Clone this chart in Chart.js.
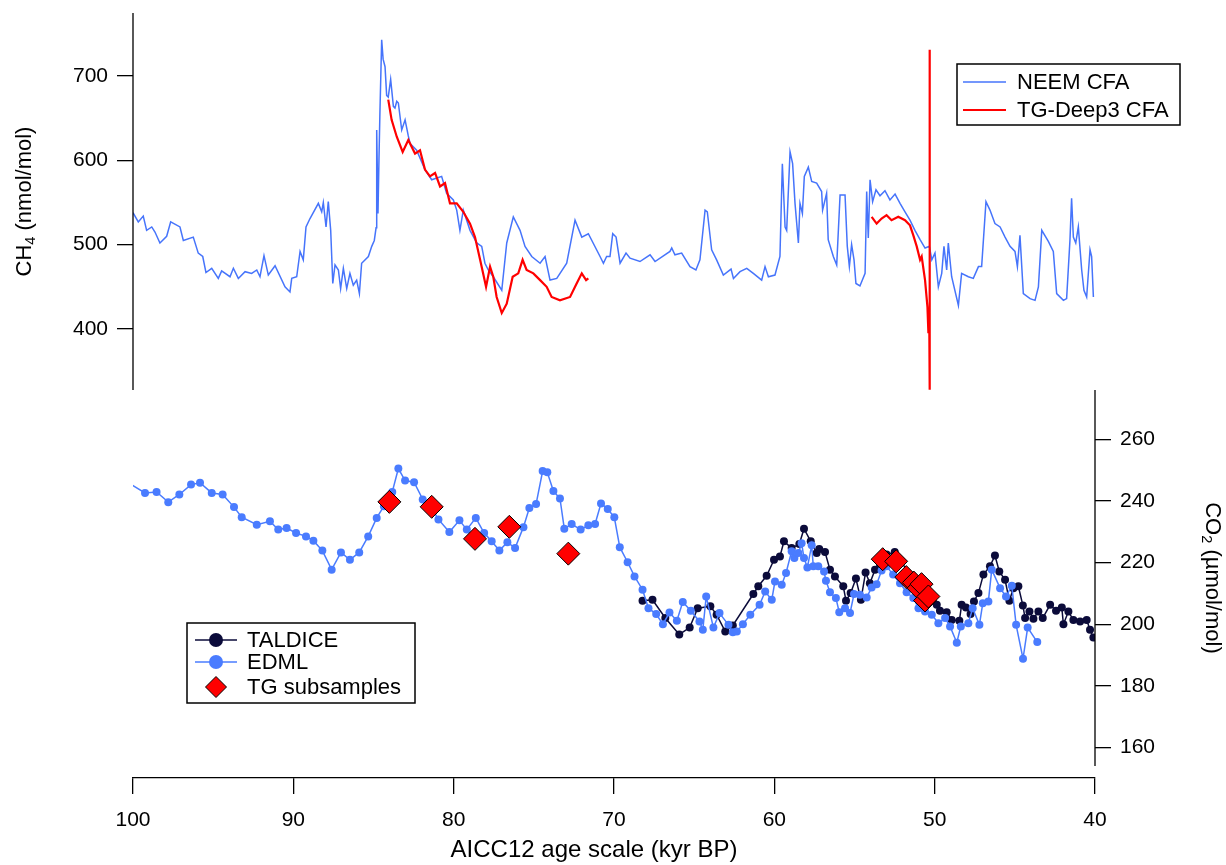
<!DOCTYPE html>
<html>
<head>
<meta charset="utf-8">
<title>CH4 and CO2, 100–40 kyr BP</title>
<script src="https://cdn.jsdelivr.net/npm/chart.js@4.4.1/dist/chart.umd.min.js"></script>
<style>
  html, body { margin: 0; padding: 0; background: #fff; }
  #wrap { position: relative; width: 1226px; height: 865px; }
</style>
</head>
<body>
<div id="wrap"><canvas id="chart" width="1226" height="865"></canvas></div>
<script>
// ---- data: [age (kyr BP), value] ----

// CH4, nmol/mol
const NEEM_CFA = [
  [100.0, 538], [99.67, 527], [99.36, 534], [99.15, 517], [98.83, 521], [98.63, 515], [98.32, 502], [97.9, 510],
  [97.65, 527], [97.07, 521], [96.86, 505], [96.24, 509], [95.93, 490], [95.65, 486], [95.45, 467], [95.09, 472],
  [94.68, 460], [94.47, 469], [93.95, 462], [93.74, 472], [93.43, 460], [93.01, 468], [92.6, 466], [92.28, 470],
  [92.08, 462], [91.83, 487], [91.56, 464], [91.14, 475], [90.52, 450], [90.21, 444], [90.1, 460], [89.79, 462],
  [89.58, 492], [89.38, 482], [89.21, 521], [88.96, 531], [88.44, 549], [88.23, 539], [88.13, 550], [87.96, 521],
  [87.82, 551], [87.67, 517], [87.54, 454], [87.4, 476], [87.19, 470], [87.05, 448], [86.88, 472], [86.67, 448],
  [86.47, 466], [86.26, 452], [86.05, 458], [85.88, 442], [85.74, 478], [85.32, 486], [85.11, 498], [84.95, 505],
  [84.84, 520], [84.8, 636], [84.72, 537], [84.66, 600], [84.6, 656], [84.49, 743], [84.4, 720], [84.28, 711],
  [84.18, 677], [84.08, 675], [83.93, 696], [83.76, 664], [83.66, 662], [83.55, 670], [83.45, 668], [83.24, 636],
  [83.03, 648], [82.83, 629], [82.72, 620], [82.31, 612], [81.79, 589], [81.37, 577], [80.75, 581], [80.44, 561],
  [80.02, 553], [79.81, 541], [79.61, 517], [79.4, 541], [78.98, 517], [78.56, 502], [78.25, 498], [78.05, 478],
  [77.84, 470], [77.53, 462], [77.0, 446], [76.69, 502], [76.28, 533], [75.86, 517], [75.55, 498], [75.13, 486],
  [74.61, 478], [74.3, 486], [73.99, 458], [73.57, 460], [72.95, 478], [72.43, 529], [72.01, 509], [71.6, 513],
  [70.87, 486], [70.66, 478], [70.46, 486], [70.25, 486], [70.08, 513], [69.87, 509], [69.62, 478], [69.25, 490],
  [69.0, 484], [68.38, 480], [67.75, 488], [67.44, 480], [66.51, 492], [66.4, 496], [66.2, 488], [65.78, 490],
  [65.26, 474], [64.89, 470], [64.64, 482], [64.32, 541], [64.18, 539], [63.91, 494], [63.6, 482], [63.18, 464],
  [62.7, 471], [62.55, 460], [62.14, 468], [61.72, 472], [61.31, 466], [60.79, 458], [60.58, 474], [60.37, 462],
  [59.96, 464], [59.65, 486], [59.5, 596], [59.33, 521], [59.23, 517], [59.02, 610], [58.86, 596], [58.71, 549],
  [58.5, 502], [58.4, 549], [58.25, 537], [58.13, 581], [57.88, 592], [57.67, 575], [57.36, 573], [57.05, 563],
  [56.99, 541], [56.74, 561], [56.64, 506], [56.32, 486], [56.11, 476], [55.9, 559], [55.59, 559], [55.45, 498],
  [55.32, 474], [55.18, 500], [55.03, 482], [54.91, 454], [54.66, 451], [54.34, 466], [54.24, 563], [54.14, 508],
  [54.03, 577], [53.87, 551], [53.66, 565], [53.41, 558], [53.1, 564], [52.79, 553], [52.47, 560], [52.16, 549],
  [51.85, 539], [51.54, 529], [51.23, 517], [50.91, 506], [50.6, 496], [50.33, 498], [50.18, 482], [49.98, 490],
  [49.77, 450], [49.56, 466], [49.42, 498], [49.25, 470], [49.15, 502], [48.94, 462], [48.52, 428], [48.32, 466],
  [47.9, 462], [47.59, 460], [47.27, 474], [47.07, 474], [46.8, 551], [46.55, 541], [46.24, 525], [45.92, 521],
  [45.61, 509], [45.3, 498], [44.99, 492], [44.84, 474], [44.68, 511], [44.47, 442], [44.05, 436], [43.74, 434],
  [43.53, 450], [43.32, 517], [42.91, 504], [42.6, 492], [42.39, 442], [41.97, 434], [41.77, 436], [41.56, 506],
  [41.46, 555], [41.35, 509], [41.2, 502], [41.04, 521], [40.83, 470], [40.69, 446], [40.52, 438], [40.31, 494],
  [40.21, 486], [40.1, 438]
];

const TG_DEEP3_OLD = [
  [84.08, 672], [83.87, 648], [83.55, 628], [83.18, 610], [82.83, 624], [82.41, 608], [82.1, 612], [81.79, 589],
  [81.48, 581], [81.16, 585], [80.85, 569], [80.54, 573], [80.23, 549], [79.81, 549], [79.4, 539], [78.98, 525],
  [78.67, 509], [78.35, 482], [77.98, 450], [77.73, 474], [77.53, 462], [77.32, 438], [77.0, 419], [76.69, 430],
  [76.32, 462], [75.97, 466], [75.7, 482], [75.45, 470], [75.03, 466], [74.61, 458], [74.2, 450], [73.89, 438],
  [73.37, 434], [72.74, 438], [72.33, 454], [72.01, 466], [71.74, 458], [71.6, 460]
];

const TG_DEEP3_YOUNG = [
  [53.93, 533], [53.62, 525], [53.31, 531], [53.0, 535], [52.69, 529], [52.27, 533], [51.85, 529], [51.54, 523],
  [51.33, 511], [51.12, 498], [50.91, 482], [50.81, 486], [50.6, 458], [50.45, 426], [50.39, 395], [50.34, 420],
  [50.32, 731], [50.3, 328]
];

// CO2, µmol/mol
const TALDICE = [
  [68.22, 207.6], [67.6, 207.9], [66.8, 202.0], [65.93, 196.7], [65.28, 198.9], [64.78, 205.2], [63.99, 205.8],
  [63.6, 203.1], [63.06, 197.6], [62.59, 199.6], [61.31, 209.8], [61.0, 212.3], [60.48, 215.7], [60.02, 220.9],
  [59.65, 222.0], [59.4, 226.9], [58.92, 224.7], [58.44, 226.0], [58.15, 231.0], [57.73, 226.9], [57.36, 223.1],
  [57.2, 224.4], [56.84, 223.4], [56.53, 217.7], [56.22, 215.5], [55.7, 212.3], [55.53, 207.6], [55.24, 210.1],
  [54.91, 214.8], [54.6, 207.9], [54.31, 216.8], [54.04, 213.3], [53.72, 217.7], [53.41, 219.3], [53.0, 222.6],
  [52.49, 223.4], [52.07, 220.4], [51.54, 215.5], [50.91, 212.3], [50.29, 209.6], [49.87, 206.3], [49.67, 204.4],
  [49.25, 203.9], [48.94, 201.4], [48.46, 201.1], [48.32, 206.3], [48.05, 205.4], [47.76, 203.3], [47.55, 207.4],
  [47.27, 210.1], [46.96, 216.1], [46.55, 218.8], [46.24, 222.3], [45.97, 217.1], [45.61, 214.4], [45.34, 207.6],
  [45.09, 211.7], [44.78, 212.3], [44.5, 206.1], [44.36, 202.0], [44.09, 204.1], [43.84, 201.8], [43.53, 204.1],
  [43.26, 202.0], [42.8, 206.3], [42.43, 204.4], [42.07, 205.4], [41.97, 200.0], [41.66, 204.1], [41.35, 201.4],
  [40.93, 200.9], [40.52, 201.4], [40.31, 198.2], [40.1, 195.7]
];

const EDML = [
  [100.5, 246.5], [99.25, 242.6], [98.53, 242.9], [97.8, 239.6], [97.11, 242.1], [96.38, 245.3], [95.82, 245.9],
  [95.09, 242.6], [94.41, 242.1], [93.7, 238.0], [93.22, 234.7], [92.28, 232.3], [91.46, 233.4], [90.94, 230.7],
  [90.42, 231.2], [89.83, 229.6], [89.21, 228.5], [88.75, 227.1], [88.19, 223.9], [87.61, 217.7], [87.03, 223.3],
  [86.47, 220.9], [85.89, 223.3], [85.33, 228.5], [84.8, 234.5], [84.35, 238.3], [83.83, 242.9], [83.45, 250.5],
  [83.03, 246.6], [82.47, 246.1], [81.93, 240.5], [81.37, 237.7], [80.95, 234.0], [80.27, 229.9], [79.64, 233.7],
  [79.18, 230.7], [78.62, 234.5], [78.1, 229.6], [77.63, 226.9], [77.15, 223.9], [76.65, 226.6], [76.17, 224.7],
  [75.65, 231.5], [75.28, 237.7], [74.86, 239.0], [74.45, 249.7], [74.16, 249.3], [73.78, 243.2], [73.37, 240.8],
  [73.1, 231.0], [72.64, 232.5], [72.08, 230.7], [71.6, 232.1], [71.18, 232.5], [70.81, 239.2], [70.39, 237.4],
  [69.98, 234.7], [69.64, 225.0], [69.15, 220.1], [68.72, 215.5], [68.22, 211.2], [67.85, 205.2], [67.37, 203.3],
  [66.95, 200.0], [66.54, 203.8], [66.08, 201.1], [65.71, 207.2], [65.21, 204.4], [64.67, 200.9], [64.46, 198.2],
  [64.25, 209.0], [63.8, 198.9], [63.42, 203.6], [62.86, 199.8], [62.59, 197.4], [62.34, 197.6], [61.96, 200.0],
  [61.5, 203.1], [60.92, 206.3], [60.57, 210.6], [60.16, 207.9], [59.96, 213.9], [59.54, 212.8], [59.27, 216.6],
  [58.92, 223.7], [58.75, 221.5], [58.5, 223.1], [58.3, 226.3], [58.15, 221.5], [57.94, 218.4], [57.67, 225.6],
  [57.57, 218.8], [57.26, 218.8], [56.9, 217.1], [56.78, 214.1], [56.53, 210.4], [56.16, 208.5], [55.95, 203.9],
  [55.59, 205.2], [55.28, 203.6], [55.03, 209.8], [54.66, 209.6], [54.24, 208.7], [53.93, 211.9], [53.62, 213.0],
  [53.31, 217.4], [53.0, 218.8], [52.59, 216.1], [52.16, 213.3], [51.75, 210.4], [51.33, 208.5], [51.01, 205.2],
  [50.6, 204.1], [50.18, 203.1], [49.77, 200.3], [49.35, 202.0], [49.04, 199.3], [48.62, 194.0], [48.37, 199.3],
  [47.9, 200.3], [47.63, 205.2], [47.21, 199.8], [47.0, 206.8], [46.65, 207.4], [46.44, 217.7], [45.92, 211.7],
  [45.55, 209.0], [45.19, 212.5], [44.92, 199.8], [44.49, 188.8], [44.2, 198.9], [43.6, 194.2]
];

const TG_SUBSAMPLES = [
  [84.01, 239.7], [81.37, 238.1], [78.67, 227.7], [76.53, 231.6], [72.85, 222.9],
  [53.24, 221.1], [52.4, 220.4], [51.77, 215.3], [51.3, 213.5], [51.01, 211.7],
  [50.82, 213.0], [50.6, 207.7], [50.39, 209.0]
];

// ---- axes ----
const AGE_RANGE = [40, 100];
const AGE_STEP = 10;
const CH4_TICKS = [400, 500, 600, 700];
const CO2_TICKS = [160, 180, 200, 220, 240, 260];

// visible extent of each y axis, and where the panels sit inside the shared plot area
// (fractions measured from the top of the plot area)
const CH4_AXIS = [327.7, 774.7];
const CO2_AXIS = [154, 276];
const PANEL_SPLIT = 0.4928;
const CO2_PANEL_END = 0.9843;

// stretch the CH4 scale downwards so its axis fills only the upper panel
const ch4Max = CH4_AXIS[1];
const ch4Min = ch4Max - (CH4_AXIS[1] - CH4_AXIS[0]) / PANEL_SPLIT;
// stretch the CO2 scale both ways so its axis fills only the lower panel
const co2PerFrac = (CO2_AXIS[1] - CO2_AXIS[0]) / (CO2_PANEL_END - PANEL_SPLIT);
const co2Max = CO2_AXIS[1] + co2PerFrac * PANEL_SPLIT;
const co2Min = CO2_AXIS[0] - co2PerFrac * (1 - CO2_PANEL_END);

const FONT = '"Liberation Sans", Arial, sans-serif';
const BLUE = '#4674fb';
const EDML_BLUE = '#4a7cff';
const RED = '#ff0000';
const NAVY = '#0b0b3a';

const xy = rows => rows.map(([x, y]) => ({ x, y }));

// title with a subscript part, drawn along the current x direction, centred on 0
function drawSubTitle(ctx, parts, size) {
  const sub = size * 0.66;
  const widths = parts.map(([t, isSub]) => {
    ctx.font = `${isSub ? sub : size}px ${FONT}`;
    return ctx.measureText(t).width;
  });
  let x = -widths.reduce((a, b) => a + b, 0) / 2;
  parts.forEach(([t, isSub], i) => {
    ctx.font = `${isSub ? sub : size}px ${FONT}`;
    ctx.fillText(t, x, isSub ? size * 0.28 : 0);
    x += widths[i];
  });
}

// drawPoint fills/strokes with the current ctx styles, so set them first
function legendPoint(ctx, ds, r, x, y) {
  ctx.fillStyle = ds.pointBackgroundColor;
  ctx.strokeStyle = ds.pointBorderColor || ds.pointBackgroundColor;
  ctx.lineWidth = ds.pointBorderWidth || 0;
  Chart.helpers.drawPoint(ctx, {
    pointStyle: ds.pointStyle || 'circle', radius: r,
    borderWidth: ds.pointBorderWidth || 0, rotation: 0
  }, x, y);
}

const LEGENDS = [
  { x: 957, y: 64, w: 223, h: 61, rows: [18, 46], symbol: [6, 49], textX: 60,
    items: [{ label: 'NEEM CFA' }, { label: 'TG-Deep3 CFA' }] },
  { x: 187, y: 623, w: 228, h: 80, rows: [17, 39, 64], symbol: [8, 50], textX: 60,
    items: [{ label: 'TALDICE', marker: 7 }, { label: 'EDML', marker: 7 }, { label: 'TG subsamples', marker: 10.5 }] }
];

const X_TITLE = { text: 'AICC12 age scale (kyr BP)', x: 594, y: 850, size: 24 };

// axis lines that stop at each panel, the axis titles and both legends
const panelFrame = {
  id: 'panelFrame',
  afterDraw(chart) {
    const { ctx, chartArea: a, scales } = chart;
    const yL = scales.yCH4, yR = scales.yCO2;
    ctx.save();
    ctx.strokeStyle = '#000';
    ctx.lineWidth = 1.3;
    ctx.beginPath();
    ctx.moveTo(a.left, yL.getPixelForValue(CH4_AXIS[1]));
    ctx.lineTo(a.left, yL.getPixelForValue(CH4_AXIS[0]));
    ctx.moveTo(a.right, yR.getPixelForValue(CO2_AXIS[1]));
    ctx.lineTo(a.right, yR.getPixelForValue(CO2_AXIS[0]));
    ctx.stroke();

    ctx.fillStyle = '#000';
    ctx.textBaseline = 'middle';
    ctx.textAlign = 'left';
    const midL = (yL.getPixelForValue(CH4_AXIS[1]) + yL.getPixelForValue(CH4_AXIS[0])) / 2;
    ctx.save();
    ctx.translate(25, midL);
    ctx.rotate(-Math.PI / 2);
    drawSubTitle(ctx, [['CH', false], ['4', true], [' (nmol/mol)', false]], 22);
    ctx.restore();

    const midR = (yR.getPixelForValue(CO2_AXIS[1]) + yR.getPixelForValue(CO2_AXIS[0])) / 2;
    ctx.save();
    ctx.translate(1212, midR);
    ctx.rotate(Math.PI / 2);
    drawSubTitle(ctx, [['CO', false], ['2', true], [' (\u00b5mol/mol)', false]], 22);
    ctx.restore();

    ctx.textAlign = 'center';
    ctx.font = `${X_TITLE.size}px ${FONT}`;
    ctx.fillText(X_TITLE.text, X_TITLE.x, X_TITLE.y);
    ctx.restore();

    LEGENDS.forEach(box => {
      ctx.save();
      ctx.fillStyle = '#fff';
      ctx.fillRect(box.x, box.y, box.w, box.h);
      ctx.strokeStyle = '#000';
      ctx.lineWidth = 1.5;
      ctx.strokeRect(box.x, box.y, box.w, box.h);
      box.items.forEach((item, i) => {
        const ds = chart.data.datasets.find(d => d.label === item.label);
        const cy = box.y + box.rows[i];
        const x0 = box.x + box.symbol[0], x1 = box.x + box.symbol[1];
        if (ds.showLine !== false) {
          ctx.strokeStyle = ds.borderColor;
          ctx.lineWidth = ds.borderWidth;
          ctx.beginPath();
          ctx.moveTo(x0, cy);
          ctx.lineTo(x1, cy);
          ctx.stroke();
        }
        if (item.marker) legendPoint(ctx, ds, item.marker, (x0 + x1) / 2, cy);
        ctx.fillStyle = '#000';
        ctx.font = `22px ${FONT}`;
        ctx.textBaseline = 'middle';
        ctx.textAlign = 'left';
        ctx.fillText(item.label, box.x + box.textX, cy + 1);
      });
      ctx.restore();
    });
  }
};

const tickFont = { family: FONT, size: 21 };

// y axes carry only the ticks listed above, so drop the label overhang padding
const fitY = width => s => { s.width = width; s.paddingTop = 0; s.paddingBottom = 0; };

new Chart(document.getElementById('chart'), {
  type: 'line',
  data: {
    datasets: [
      {
        label: 'TG subsamples', data: xy(TG_SUBSAMPLES), yAxisID: 'yCO2', order: 0,
        showLine: false, pointStyle: 'rectRot', pointRadius: 11.5,
        pointBackgroundColor: RED, pointBorderColor: '#000', pointBorderWidth: 1
      },
      {
        label: 'TG-Deep3 CFA', data: xy(TG_DEEP3_OLD), yAxisID: 'yCH4', order: 1,
        borderColor: RED, borderWidth: 2.2, pointRadius: 0
      },
      {
        label: 'TG-Deep3 CFA (young)', data: xy(TG_DEEP3_YOUNG), yAxisID: 'yCH4', order: 1,
        borderColor: RED, borderWidth: 2.2, pointRadius: 0
      },
      {
        label: 'NEEM CFA', data: xy(NEEM_CFA), yAxisID: 'yCH4', order: 2,
        borderColor: BLUE, borderWidth: 1.5, pointRadius: 0
      },
      {
        label: 'EDML', data: xy(EDML), yAxisID: 'yCO2', order: 3,
        borderColor: EDML_BLUE, borderWidth: 1.5,
        pointRadius: 4, pointBackgroundColor: EDML_BLUE, pointBorderWidth: 0,
        clip: { left: 0, top: false, right: false, bottom: false }
      },
      {
        label: 'TALDICE', data: xy(TALDICE), yAxisID: 'yCO2', order: 4,
        borderColor: NAVY, borderWidth: 1.5,
        pointRadius: 4, pointBackgroundColor: NAVY, pointBorderWidth: 0
      }
    ]
  },
  options: {
    responsive: false,
    animation: false,
    devicePixelRatio: 1,
    layout: { padding: { top: 13, left: 0, right: 0, bottom: 0 } },
    plugins: { legend: { display: false }, tooltip: { enabled: false } },
    scales: {
      x: {
        type: 'linear', min: AGE_RANGE[0], max: AGE_RANGE[1], reverse: true,
        border: { color: '#000', width: 1.3 },
        grid: { drawOnChartArea: false, tickLength: 16, color: '#000', lineWidth: 1.3 },
        ticks: { stepSize: AGE_STEP, padding: 14, font: tickFont, color: '#000', maxRotation: 0 },
        afterFit: s => { s.height = 87; }
      },
      yCH4: {
        type: 'linear', position: 'left', min: ch4Min, max: ch4Max, bounds: 'data',
        border: { display: false },
        grid: { drawOnChartArea: false, tickLength: 16, color: '#000', lineWidth: 1.3 },
        ticks: { padding: 9, font: tickFont, color: '#000' },
        afterBuildTicks: s => { s.ticks = CH4_TICKS.map(value => ({ value })); },
        afterFit: fitY(133)
      },
      yCO2: {
        type: 'linear', position: 'right', min: co2Min, max: co2Max, bounds: 'data',
        border: { display: false },
        grid: { drawOnChartArea: false, tickLength: 16, color: '#000', lineWidth: 1.3 },
        ticks: { padding: 9, font: tickFont, color: '#000' },
        afterBuildTicks: s => { s.ticks = CO2_TICKS.map(value => ({ value })); },
        afterFit: fitY(131)
      }
    }
  },
  plugins: [panelFrame]
});
</script>
</body>
</html>
